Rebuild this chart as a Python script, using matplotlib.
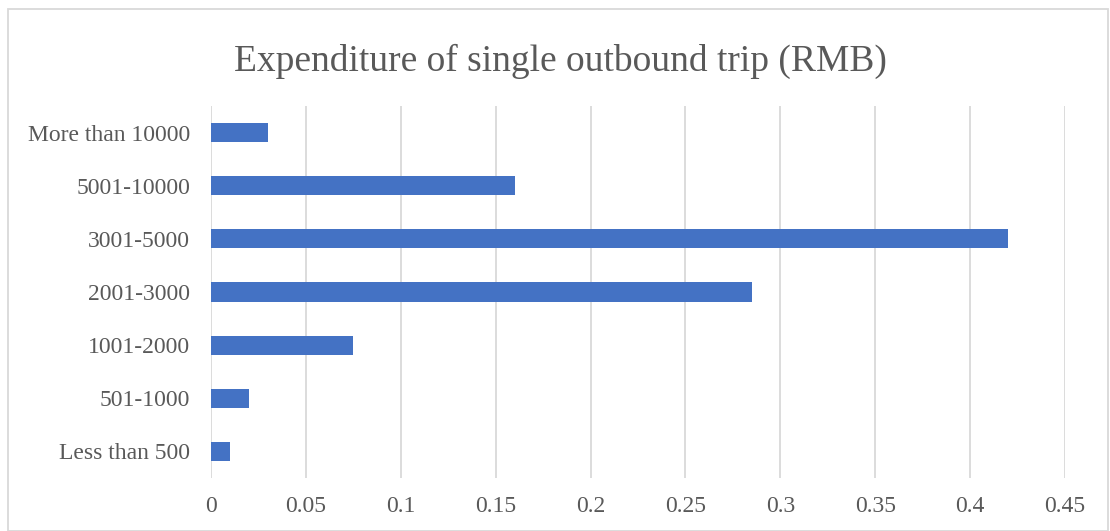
import matplotlib.pyplot as plt
from matplotlib.patches import Rectangle

categories = ['Less than 500', '501-1000', '1001-2000', '2001-3000',
              '3001-5000', '5001-10000', 'More than 10000']
shares = [0.01, 0.02, 0.075, 0.285, 0.42, 0.16, 0.03]
xticks = [0, 0.05, 0.1, 0.15, 0.2, 0.25, 0.3, 0.35, 0.4, 0.45]
xtick_labels = ['0', '0.05', '0.1', '0.15', '0.2', '0.25', '0.3', '0.35', '0.4', '0.45']

plt.rcParams['font.family'] = ['Liberation Serif', 'DejaVu Serif']
text_color = '#595959'

fig = plt.figure(figsize=(11.1, 5.31), dpi=100)
ax = fig.add_axes([0.190, 0.0998, 0.7695, 0.7006])

ax.barh(range(len(categories)), shares, height=0.36, color='#4472C4', zorder=3)
ax.set_ylim(-0.5, len(categories) - 0.5)
ax.set_xlim(0, 0.45)
ax.set_yticks(range(len(categories)))
ax.set_yticklabels(categories, fontsize=17, color=text_color)
ax.set_xticks(xticks)
ax.set_xticklabels(xtick_labels, fontsize=17, color=text_color)
ax.tick_params(length=0)
ax.tick_params(axis='y', pad=15)
ax.tick_params(axis='x', pad=13)
ax.grid(axis='x', color='#D9D9D9', linewidth=1.3, zorder=0)
for s in ax.spines.values():
    s.set_visible(False)

fig.text(0.505, 0.885, 'Expenditure of single outbound trip (RMB)',
         ha='center', va='center', fontsize=27, color=text_color)

# chart area border
fig.patches.append(Rectangle((8 / 1110, 0), 1100 / 1110, 522 / 531,
                             transform=fig.transFigure, fill=False,
                             edgecolor='#D9D9D9', linewidth=1.3))

fig.savefig('out.png', dpi=100)
